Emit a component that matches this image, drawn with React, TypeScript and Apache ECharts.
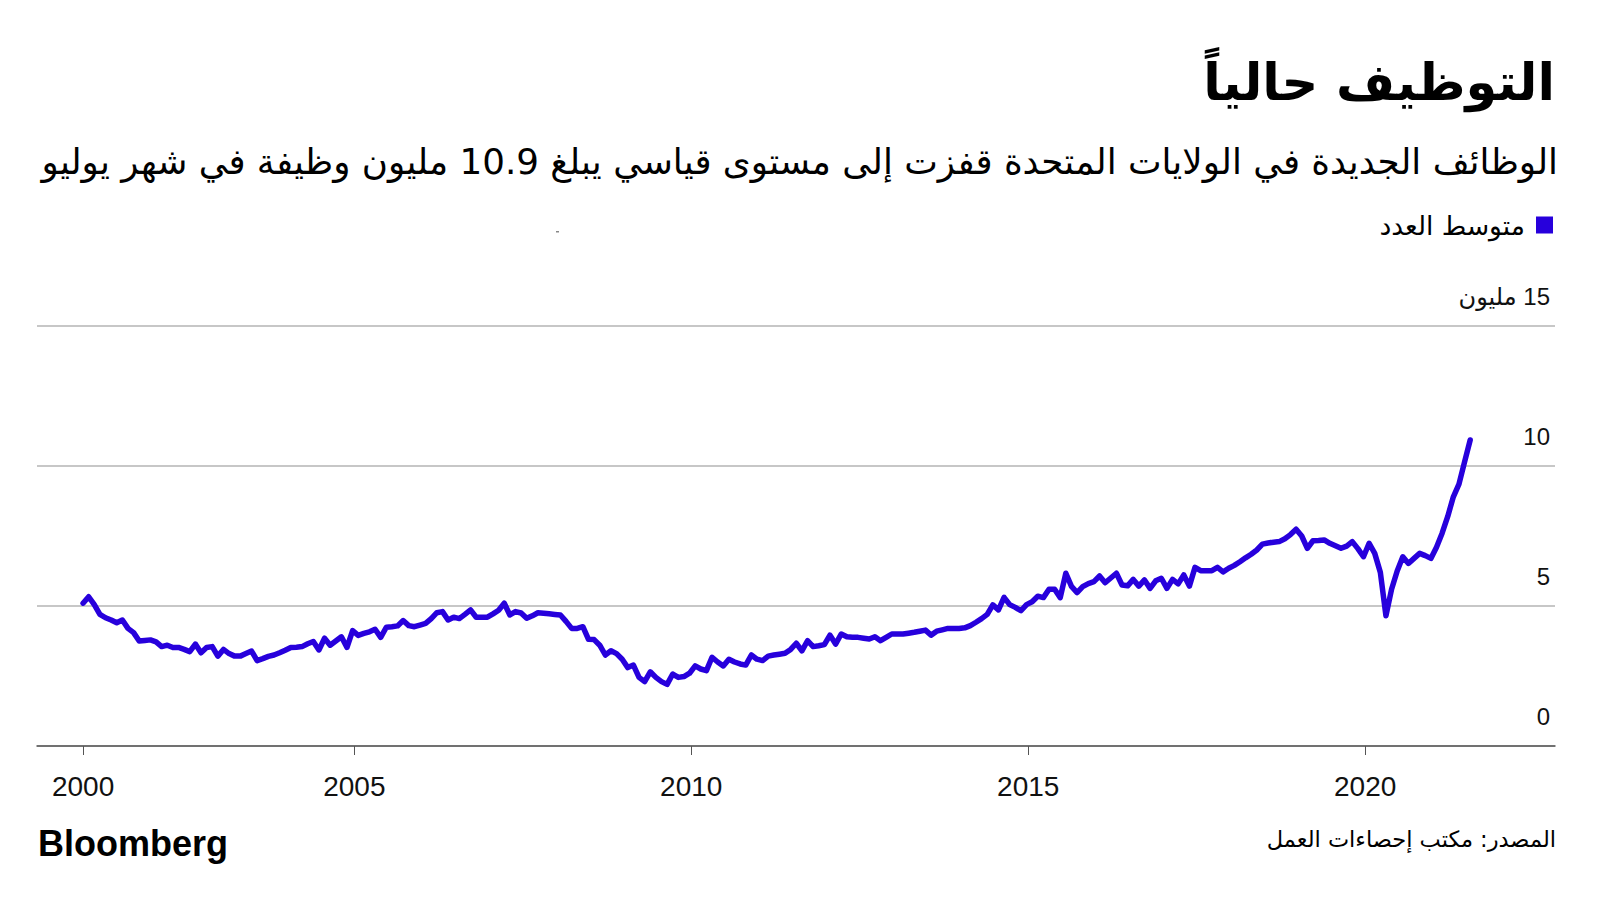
import React, { useEffect, useRef } from "react";
import * as echarts from "echarts";

const titleText = "التوظيف حالياً";
const subtitleText =
  "الوظائف الجديدة في الولايات المتحدة قفزت إلى مستوى قياسي يبلغ 10.9 مليون وظيفة في شهر يوليو";
const legendName = "متوسط العدد";
const sourceText = "المصدر: مكتب إحصاءات العمل";
const logoText = "Bloomberg";
const unitText = "مليون";

const tickYears = [2000, 2005, 2010, 2015, 2020];

// Monthly job openings (millions), Dec 2000 – Jul 2021
const v2000 = [5.1];
const v2001 = [5.33, 5.05, 4.7, 4.58, 4.5, 4.4, 4.5, 4.2, 4.05, 3.75, 3.77, 3.79];
const v2002 = [3.72, 3.55, 3.6, 3.52, 3.52, 3.45, 3.37, 3.64, 3.33, 3.52, 3.55, 3.21];
const v2003 = [3.45, 3.3, 3.21, 3.21, 3.3, 3.39, 3.05, 3.12, 3.2, 3.25, 3.33, 3.42];
const v2004 = [3.52, 3.53, 3.55, 3.65, 3.73, 3.43, 3.85, 3.6, 3.75, 3.9, 3.52, 4.12];
const v2005 = [3.95, 4.02, 4.08, 4.17, 3.88, 4.24, 4.26, 4.29, 4.48, 4.3, 4.26, 4.32];
const v2006 = [4.38, 4.55, 4.76, 4.8, 4.5, 4.6, 4.55, 4.7, 4.86, 4.6, 4.6, 4.6];
const v2007 = [4.72, 4.85, 5.1, 4.68, 4.8, 4.75, 4.56, 4.65, 4.76, 4.74, 4.72, 4.7];
const v2008 = [4.68, 4.45, 4.2, 4.2, 4.26, 3.81, 3.8, 3.6, 3.25, 3.4, 3.3, 3.1];
const v2009 = [2.8, 2.89, 2.45, 2.3, 2.65, 2.45, 2.3, 2.2, 2.57, 2.45, 2.48, 2.6];
const v2010 = [2.86, 2.75, 2.69, 3.17, 3.0, 2.86, 3.1, 3.0, 2.93, 2.89, 3.25, 3.1];
const v2011 = [3.05, 3.21, 3.25, 3.28, 3.31, 3.45, 3.67, 3.4, 3.76, 3.55, 3.58, 3.62];
const v2012 = [3.96, 3.64, 4.0, 3.9, 3.88, 3.88, 3.85, 3.82, 3.9, 3.76, 3.88, 4.0];
const v2013 = [4.0, 4.0, 4.03, 4.06, 4.1, 4.14, 3.96, 4.1, 4.15, 4.2, 4.2, 4.2];
const v2014 = [4.22, 4.3, 4.42, 4.55, 4.7, 5.04, 4.86, 5.31, 5.05, 4.95, 4.83, 5.05];
const v2015 = [5.15, 5.35, 5.3, 5.6, 5.6, 5.3, 6.17, 5.7, 5.48, 5.69, 5.8, 5.87];
const v2016 = [6.07, 5.83, 6.0, 6.17, 5.75, 5.72, 5.95, 5.71, 5.93, 5.63, 5.9, 5.99];
const v2017 = [5.63, 5.95, 5.79, 6.11, 5.71, 6.38, 6.26, 6.26, 6.26, 6.38, 6.22, 6.35];
const v2018 = [6.45, 6.58, 6.72, 6.85, 7.0, 7.21, 7.25, 7.28, 7.3, 7.4, 7.55, 7.74];
const v2019 = [7.5, 7.06, 7.33, 7.34, 7.36, 7.24, 7.15, 7.06, 7.14, 7.3, 7.05, 6.76];
const v2020 = [7.24, 6.88, 6.2, 4.65, 5.6, 6.25, 6.76, 6.52, 6.7, 6.88, 6.8, 6.7];
const v2021 = [7.1, 7.6, 8.2, 8.9, 9.35, 10.15, 10.93];

const allValues = [
  ...v2000, ...v2001, ...v2002, ...v2003, ...v2004, ...v2005, ...v2006, ...v2007,
  ...v2008, ...v2009, ...v2010, ...v2011, ...v2012, ...v2013, ...v2014, ...v2015,
  ...v2016, ...v2017, ...v2018, ...v2019, ...v2020, ...v2021,
];

// month index 0 = Dec 2000 (points sit mid-month; year ticks at 1 January)
const tickValues = tickYears.map((y) => Math.max(0, (y - 2000) * 12 - 11.7));

const AR = "'DejaVu Sans', sans-serif";
const LAT = "'Liberation Sans', 'DejaVu Sans', sans-serif";
const BLUE = "#2700dc";

export default function App() {
  const ref = useRef<HTMLDivElement>(null);
  useEffect(() => {
    if (!ref.current) return;
    const chart = echarts.init(ref.current, undefined, { renderer: "svg" });
    const data = allValues.map((v, i) => [i, v]);
    chart.setOption({
      animation: false,
      backgroundColor: "#ffffff",
      title: [
        {
          text: titleText,
          right: 40,
          top: 46,
          textStyle: { fontFamily: AR, fontWeight: "bold", fontSize: 51, lineHeight: 63, color: "#000" },
        },
        {
          text: subtitleText,
          right: 37,
          top: 135,
          textStyle: { fontFamily: AR, fontWeight: "normal", fontSize: 35.7, lineHeight: 42, color: "#000" },
        },
        {
          text: sourceText,
          right: 39,
          top: 820,
          textStyle: { fontFamily: AR, fontWeight: "normal", fontSize: 22.5, lineHeight: 28, color: "#000" },
        },
        {
          text: logoText,
          left: 33,
          top: 818,
          textStyle: { fontFamily: LAT, fontWeight: "bold", fontSize: 36, lineHeight: 40, color: "#000" },
        },
      ],
      legend: {
        right: 42,
        top: 205,
        align: "right",
        icon: "rect",
        itemWidth: 17,
        itemHeight: 17,
        textStyle: { fontFamily: AR, fontSize: 26.5, lineHeight: 30, color: "#000", padding: [0, 6, 0, 0] },
        data: [legendName],
      },
      graphic: [
        { type: "rect", shape: { x: 556, y: 231, width: 3, height: 1.5 }, style: { fill: "#888" } },
      ],
      grid: { left: 37, right: 45, top: 326, bottom: 154 },
      xAxis: {
        type: "value",
        min: -8.2,
        max: 262.1,
        axisLine: { show: true, onZero: false, lineStyle: { color: "#555", width: 1.5 } },
        axisTick: { show: true, customValues: tickValues, length: 9, lineStyle: { color: "#555", width: 1 } },
        axisLabel: {
          customValues: tickValues,
          formatter: (v: number) => {
            let best = 0;
            tickValues.forEach((t, i) => {
              if (Math.abs(t - v) < Math.abs(tickValues[best] - v)) best = i;
            });
            return String(tickYears[best]);
          },
          fontFamily: LAT,
          fontSize: 28,
          color: "#111",
          margin: 26,
        },
        splitLine: { show: false },
      },
      yAxis: {
        type: "value",
        position: "right",
        min: 0,
        max: 15,
        interval: 5,
        axisLine: { show: false },
        axisTick: { show: false },
        splitLine: { lineStyle: { color: "#b4b4b4", width: 1.5 } },
        axisLabel: {
          inside: true,
          margin: 5,
          verticalAlign: "bottom",
          padding: [0, 0, 18, 0],
          fontFamily: LAT,
          fontSize: 24,
          color: "#111",
          formatter: (v: number) => (v === 15 ? "\u200F15 " + unitText : String(v)),
        },
      },
      series: [
        {
          name: legendName,
          type: "line",
          data,
          showSymbol: false,
          symbol: "none",
          itemStyle: { color: BLUE },
          lineStyle: { color: BLUE, width: 5.5, cap: "round", join: "round" },
        },
      ],
    });
    return () => chart.dispose();
  }, []);
  return (
    <div
      ref={ref}
      style={{ position: "fixed", left: 0, top: 0, width: 1600, height: 900, background: "#fff" }}
    />
  );
}
